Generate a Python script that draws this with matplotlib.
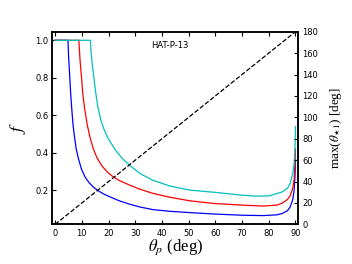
import matplotlib
matplotlib.use('Agg')
import matplotlib.pyplot as plt

plt.rcParams['mathtext.fontset'] = 'stix'

# values
blue_theta = [0, 4.8, 5.1, 5.5, 5.85, 6.2, 6.7, 7.2, 7.9, 8.7, 9.8, 11.2, 12.7, 14.4, 16.2,
              18.1, 21.2, 24.2, 27.9, 31.7, 36.6, 42.9, 50.4, 60, 70, 78, 83, 85, 87, 88,
              89, 89.5, 89.8, 90]
blue_f = [1.0, 1.0, 0.9, 0.8, 0.71, 0.64, 0.55, 0.49, 0.42, 0.37, 0.315, 0.27, 0.24, 0.215, 0.196,
          0.18, 0.16, 0.142, 0.125, 0.11, 0.096, 0.087, 0.08, 0.072, 0.066, 0.064, 0.068, 0.075, 0.09, 0.11,
          0.15, 0.2, 0.27, 0.36]

red_theta = [0, 8.9, 9.3, 9.9, 10.4, 11.0, 12.0, 13.1, 14.3, 15.6, 17.5, 19.5, 21.7, 24.2,
             27.9, 31.7, 36.6, 42.9, 50.4, 60, 70, 78, 83, 85, 87, 88, 89, 89.5, 89.8, 90]
red_f = [1.0, 1.0, 0.9, 0.8, 0.71, 0.64, 0.55, 0.48, 0.42, 0.375, 0.33, 0.297, 0.271, 0.25,
         0.227, 0.205, 0.183, 0.162, 0.143, 0.128, 0.12, 0.115, 0.12, 0.13, 0.15, 0.17, 0.21, 0.26, 0.33, 0.42]

cyan_theta = [0, 13.2, 13.5, 14.0, 14.6, 15.3, 16.0, 17.0, 18.3, 19.7, 21.2, 22.7, 24.2, 26.0,
              27.9, 31.7, 36.6, 42.9, 50.4, 60, 70, 75, 80, 85, 87, 88, 89, 89.5, 89.8, 90]
cyan_f = [1.0, 1.0, 0.93, 0.86, 0.79, 0.71, 0.645, 0.58, 0.525, 0.48, 0.445, 0.412, 0.385, 0.357,
          0.333, 0.289, 0.253, 0.222, 0.2, 0.188, 0.173, 0.168, 0.169, 0.19, 0.21, 0.235, 0.29, 0.34, 0.42, 0.54]

dash_theta = [0, 90]
dash_max = [0, 180]

fig = plt.figure(figsize=(3.52, 2.64), dpi=100)
ax = fig.add_axes([0.149, 0.150, 0.698, 0.730])

ax.plot(blue_theta, blue_f, color='b', lw=0.9)
ax.plot(red_theta, red_f, color='r', lw=0.9)
ax.plot(cyan_theta, cyan_f, color='c', lw=0.9)

ax.set_xlim(-1, 91)
ax.set_ylim(0.017, 1.046)
ax.set_xticks(range(0, 91, 10))
ax.set_yticks([0.2, 0.4, 0.6, 0.8, 1.0])
ax.tick_params(direction='in', labelsize=6, length=3, width=0.8, top=True, pad=3)

ax.text(0.478, 0.926, 'HAT-P-13', transform=ax.transAxes, ha='center', va='center', fontsize=6)

ax.set_xlabel(r'$\theta_p$ (deg)', family='Liberation Serif', fontsize=12, labelpad=0)
ax.set_ylabel(r'$f$', fontsize=13, labelpad=5)

ax2 = ax.twinx()
ax2.plot(dash_theta, dash_max, 'k--', lw=0.9)
ax2.set_ylim(0, 180)
ax2.set_yticks(range(0, 181, 20))
ax2.tick_params(direction='in', labelsize=6, length=3, width=0.8, pad=3)
ax2.set_ylabel(r'max($\theta_{\star 1}$) [deg]', family='Liberation Serif', fontsize=9.5, labelpad=7)

for a in (ax, ax2):
    for s in a.spines.values():
        s.set_linewidth(1.1)

fig.savefig('out.png', dpi=100)
